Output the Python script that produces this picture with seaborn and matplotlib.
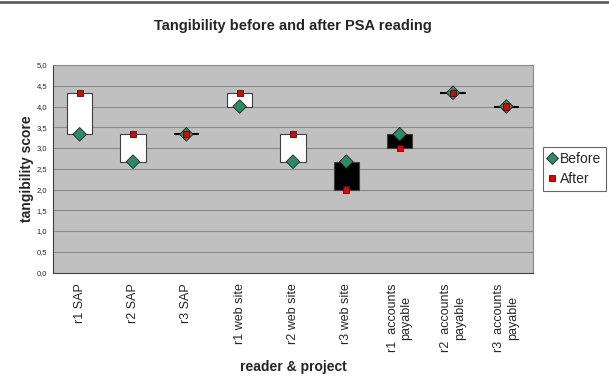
import numpy as np
import pandas as pd
import matplotlib
matplotlib.use('Agg')
import matplotlib.pyplot as plt
import seaborn as sns
from matplotlib.lines import Line2D

categories = ['r1 SAP', 'r2 SAP', 'r3 SAP', 'r1 web site', 'r2 web site', 'r3 web site',
              'r1  accounts\npayable', 'r2  accounts\npayable', 'r3  accounts\npayable']
before = [3.33, 2.67, 3.33, 4.0, 2.67, 2.67, 3.33, 4.33, 4.0]
after = [4.33, 3.33, 3.33, 4.33, 3.33, 2.0, 3.0, 4.33, 4.0]
yticks = np.arange(0, 5.01, 0.5)

sns.set_style('white')
plt.rcParams['font.family'] = ['Liberation Sans', 'DejaVu Sans']

df = pd.DataFrame({'pos': list(range(len(categories))) * 2,
                   'score': before + after,
                   'series': ['Before'] * len(categories) + ['After'] * len(categories)})

fig = plt.figure(figsize=(6.09, 3.86), dpi=100)
ax = fig.add_axes([53 / 609, 1 - 272.5 / 386, 480 / 609, 207.5 / 386])
ax.set_facecolor('#c0c0c0')

# up/down bars
x = np.arange(len(categories))
b = np.array(before)
a = np.array(after)
w = 0.48
for xi, bi, ai in zip(x, b, a):
    if abs(ai - bi) < 1e-9:
        ax.hlines(bi, xi - w / 2, xi + w / 2, color='black', lw=1.5, zorder=3)
    else:
        ax.bar(xi, ai - bi, bottom=bi, width=w, color='white' if ai > bi else 'black',
               edgecolor='#404040', lw=0.8, zorder=3)

sns.scatterplot(data=df, x='pos', y='score', hue='series', style='series', size='series',
                palette={'Before': '#2e8b67', 'After': '#e00000'},
                markers={'Before': 'D', 'After': 's'},
                sizes={'Before': 48, 'After': 20},
                edgecolor='#202020', linewidth=0.6,
                legend=False, ax=ax, zorder=4)

ax.set_xlim(-0.5, len(categories) - 0.5)
ax.set_ylim(0, 5)
ax.set_yticks(yticks)
ax.set_yticklabels([f'{v:.1f}'.replace('.', ',') for v in yticks], fontsize=5.5)
ax.yaxis.grid(True, color='#8a8a8a', lw=0.8)
ax.set_axisbelow(True)

ax.set_xticks(np.arange(-0.5, len(categories), 1))
ax.set_xticklabels([])
ax.set_xticks(x, minor=True)
ax.set_xticklabels(categories, minor=True, rotation=90, fontsize=9, va='top', ha='center')
ax.tick_params(axis='x', which='major', direction='out', length=4, color='#404040', width=0.8)
ax.tick_params(axis='x', which='minor', length=0, pad=8)
ax.tick_params(axis='y', direction='out', length=3, color='#404040', width=0.8, pad=1)

for s in ['top', 'right']:
    ax.spines[s].set_color('#8a8a8a')
    ax.spines[s].set_linewidth(0.8)
for s in ['left', 'bottom']:
    ax.spines[s].set_color('#404040')
    ax.spines[s].set_linewidth(0.8)

ax.set_xlabel('reader & project', fontsize=10, fontweight='bold', labelpad=6)
ax.set_ylabel('tangibility score', fontsize=10, fontweight='bold', labelpad=2)
ax.set_title('Tangibility before and after PSA reading', fontsize=10.5, fontweight='bold', pad=25)

handles = [Line2D([], [], marker='D', ls='', color='#2e8b67', markeredgecolor='#202020',
                  markersize=6, markeredgewidth=0.6, label='Before'),
           Line2D([], [], marker='s', ls='', color='#e00000', markeredgecolor='#202020',
                  markersize=4.5, markeredgewidth=0.6, label='After')]
leg = fig.legend(handles=handles, loc='center left', bbox_to_anchor=(543 / 609, 1 - 169 / 386),
                 frameon=True, fancybox=False, fontsize=10, handlelength=0.6,
                 handletextpad=0.3, borderpad=0.35, labelspacing=0.45, borderaxespad=0)
leg.get_frame().set_edgecolor('#404040')
leg.get_frame().set_linewidth(0.8)

fig.add_artist(Line2D([0, 1], [1 - 1.5 / 386, 1 - 1.5 / 386], color='#606060', lw=2))

fig.savefig('out.png', dpi=100)
